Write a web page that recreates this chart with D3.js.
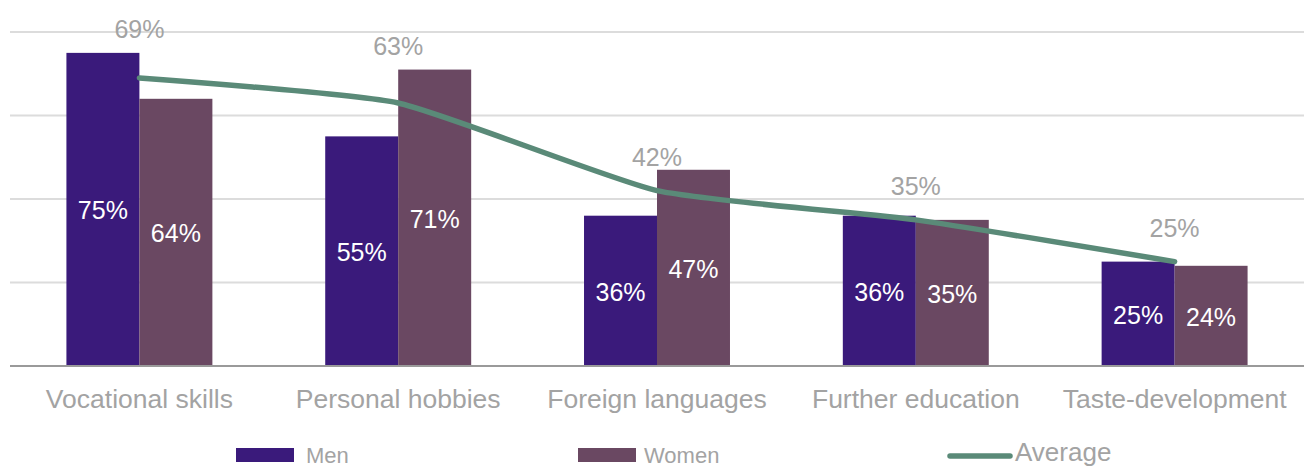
<!DOCTYPE html>
<html>
<head>
<meta charset="utf-8">
<script src="https://cdn.jsdelivr.net/npm/d3@7/dist/d3.min.js"></script>
<style>
  html, body { margin: 0; padding: 0; background: #ffffff; }
  svg { display: block; font-family: "Liberation Sans", Arial, Helvetica, sans-serif; }
</style>
</head>
<body>
<script>
// Learning purposes by gender, with the overall average
const categories = ["Vocational skills", "Personal hobbies", "Foreign languages", "Further education", "Taste-development"];
const men = [75, 55, 36, 36, 25];
const women = [64, 71, 47, 35, 24];
const average = [69, 63, 42, 35, 25];
const gridTicks = [20, 40, 60, 80];
const seriesNames = ["Men", "Women", "Average"];

const W = 1304, H = 467;
const colMen = "#3a1a7b", colWomen = "#6a4862", colAvg = "#5a8a78";
const grey = "#a3a3a3";

const svg = d3.select("body").append("svg").attr("width", W).attr("height", H);

const x0 = d3.scaleBand().domain(categories).range([10, 1304]).paddingInner(0.436).paddingOuter(0.218);
const x1 = d3.scaleBand().domain(["men", "women"]).range([0, x0.bandwidth()]);
const y = d3.scaleLinear().domain([0, 80]).range([366, 32]);

// horizontal gridlines
svg.append("g").selectAll("line").data(gridTicks).join("line")
  .attr("x1", 10).attr("x2", W)
  .attr("y1", d => y(d)).attr("y2", d => y(d))
  .attr("stroke", "#dcdcdc").attr("stroke-width", 2);

// grouped bars
const rows = categories.map((c, i) => ({ c, men: men[i], women: women[i], avg: average[i] }));
const groups = svg.append("g").selectAll("g").data(rows).join("g")
  .attr("transform", d => `translate(${x0(d.c)},0)`);

const barData = d => [{ k: "men", v: d.men, col: colMen }, { k: "women", v: d.women, col: colWomen }];
groups.selectAll("rect").data(barData).join("rect")
  .attr("x", d => x1(d.k)).attr("width", x1.bandwidth())
  .attr("y", d => y(d.v)).attr("height", d => y(0) - y(d.v))
  .attr("fill", d => d.col);

groups.selectAll("text.in").data(barData).join("text")
  .attr("class", "in")
  .attr("x", d => x1(d.k) + x1.bandwidth() / 2)
  .attr("y", d => (y(d.v) + y(0)) / 2 + 10)
  .attr("text-anchor", "middle")
  .attr("fill", "#ffffff")
  .attr("font-size", 25)
  .text(d => d.v + "%");

// baseline axis
svg.append("line").attr("x1", 10).attr("x2", W).attr("y1", y(0)).attr("y2", y(0))
  .attr("stroke", "#9a9a9a").attr("stroke-width", 2);

// category labels
const xAxis = svg.append("g").attr("transform", `translate(0,${y(0)})`)
  .call(d3.axisBottom(x0).tickSize(0).tickPadding(0));
xAxis.select(".domain").remove();
xAxis.selectAll("text").attr("font-size", 26.5).attr("fill", grey)
  .attr("font-family", "'Liberation Sans', Arial, sans-serif")
  .attr("dy", 0).attr("y", 42);

// smoothed average line through the category centres
const cx = c => x0(c) + x0.bandwidth() / 2;
const line = d3.line().x(d => cx(d.c)).y(d => y(d.avg)).curve(d3.curveCardinal.tension(0.5));
svg.append("path").datum(rows).attr("d", line)
  .attr("fill", "none").attr("stroke", colAvg).attr("stroke-width", 5.5)
  .attr("stroke-linejoin", "round").attr("stroke-linecap", "round");

// average labels, lifted above the taller bar when they would overlap it
svg.append("g").selectAll("text").data(rows).join("text")
  .attr("x", d => cx(d.c))
  .attr("y", d => {
    const base = y(d.avg) - 25;
    const top = y(Math.max(d.men, d.women));
    return base > top ? top - 15 : base;
  })
  .attr("text-anchor", "middle").attr("fill", grey).attr("font-size", 25)
  .text(d => d.avg + "%");

// legend
const lg = svg.append("g");
lg.append("rect").attr("x", 236).attr("y", 448).attr("width", 58).attr("height", 14).attr("fill", colMen);
lg.append("text").attr("x", 306).attr("y", 463).attr("font-size", 22).attr("fill", grey).text(seriesNames[0]);
lg.append("rect").attr("x", 578).attr("y", 448).attr("width", 58).attr("height", 14).attr("fill", colWomen);
lg.append("text").attr("x", 644).attr("y", 463).attr("font-size", 22).attr("fill", grey).text(seriesNames[1]);
lg.append("line").attr("x1", 950).attr("x2", 1010).attr("y1", 456).attr("y2", 456)
  .attr("stroke", colAvg).attr("stroke-width", 5.5).attr("stroke-linecap", "round");
lg.append("text").attr("x", 1015).attr("y", 461).attr("font-size", 26).attr("fill", grey).text(seriesNames[2]);
</script>
</body>
</html>
